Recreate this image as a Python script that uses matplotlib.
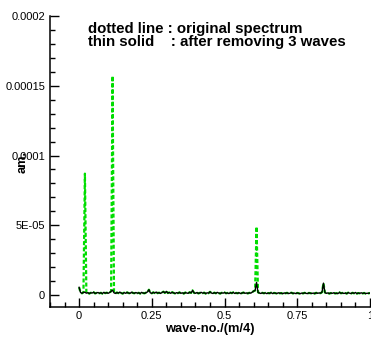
import numpy as np
import matplotlib
matplotlib.use("Agg")
import matplotlib.pyplot as plt
from matplotlib.ticker import MultipleLocator, FixedLocator, FixedFormatter

plt.rcParams['font.family'] = ['Liberation Sans', 'DejaVu Sans']

# wave number grid (step 0.005) and amplitude after removing 3 waves (units of 1e-6)
wave_no = np.linspace(0, 1, 201)
after_removing = [
    5.5, 1.8, 1.2, 1.9, 2.0, 1.3, 1.7, 1.0, 1.6, 1.4,
    2.0, 1.1, 1.5, 1.8, 1.2, 1.6, 1.0, 1.9, 1.3, 1.7,
    1.2, 1.8, 2.6, 3.5, 1.6, 1.1, 1.8, 1.3, 2.1, 1.4,
    1.0, 1.7, 1.2, 1.9, 1.4, 1.1, 2.0, 1.5, 1.2, 1.8,
    1.3, 1.6, 1.0, 1.9, 1.4, 1.2, 1.7, 2.2, 3.8, 1.5,
    1.2, 1.9, 1.4, 2.1, 1.3, 1.7, 1.1, 1.8, 2.4, 1.5,
    2.6, 1.4, 1.8, 1.2, 2.0, 1.5, 1.1, 1.7, 1.3, 1.9,
    1.2, 1.6, 1.0, 1.8, 1.4, 1.2, 2.0, 1.5, 3.3, 1.6,
    1.2, 1.8, 1.1, 1.5, 1.9, 1.3, 1.7, 1.0, 1.6, 1.3,
    2.3, 1.4, 1.1, 1.7, 1.2, 1.9, 1.4, 1.0, 1.6, 1.3,
    1.8, 1.2, 1.5, 1.0, 1.7, 1.3, 1.9, 1.1, 1.5, 1.2,
    1.7, 1.0, 1.4, 1.8, 1.2, 1.5, 1.1, 1.6, 1.3, 2.0,
    2.8, 3.2, 9.0, 1.9, 1.4, 1.1, 1.6, 1.2, 1.5, 1.0,
    1.4, 1.2, 1.7, 1.0, 1.5, 1.3, 1.1, 1.6, 1.2, 1.4,
    0.9, 1.5, 1.2, 1.6, 1.0, 1.3, 1.7, 1.1, 1.4, 1.0,
    1.5, 1.2, 0.9, 1.4, 1.1, 1.6, 1.2, 1.0, 1.5, 1.3,
    1.1, 1.4, 1.0, 1.6, 1.2, 1.5, 1.3, 2.0, 8.5, 1.8,
    1.2, 1.5, 1.0, 1.4, 1.2, 1.6, 1.1, 1.3, 1.0, 1.9,
    1.2, 1.5, 1.1, 1.4, 1.0, 1.7, 1.3, 1.1, 1.6, 1.2,
    1.8, 1.0, 1.4, 1.2, 1.6, 1.1, 1.5, 1.0, 1.3, 1.2,
    1.4,
]
# the 3 waves present in the original spectrum (index on the grid, amplitude 1e-6)
wave_index = [4, 23, 122]
wave_amp = [87.0, 157.0, 49.0]

original = list(after_removing)
for i, a in zip(wave_index, wave_amp):
    original[i] = a

original = np.array(original) * 1e-6
after = np.array(after_removing) * 1e-6

fig = plt.figure(figsize=(3.71, 3.38), dpi=100)
ax = fig.add_axes([50 / 371, 31 / 338, 320 / 371, 291 / 338])

ax.plot(wave_no, original, color='#00dd00', lw=1.6, linestyle=(0, (1.8, 1.0)))
ax.plot(wave_no, after, color='black', lw=1.0)

ax.set_xlim(-0.1, 1.0)
ax.set_ylim(-8.6e-6, 2e-4)

ax.xaxis.set_major_locator(FixedLocator([0, 0.25, 0.5, 0.75, 1]))
ax.xaxis.set_major_formatter(FixedFormatter(['0', '0.25', '0.5', '0.75', '1']))
ax.xaxis.set_minor_locator(MultipleLocator(0.05))
ax.yaxis.set_major_locator(FixedLocator([0, 5e-5, 1e-4, 1.5e-4, 2e-4]))
ax.yaxis.set_major_formatter(FixedFormatter(['0', '5E-05', '0.0001', '0.00015', '0.0002']))
ax.yaxis.set_minor_locator(MultipleLocator(1e-5))

ax.tick_params(which='both', direction='in', width=1.0, labelsize=8)
ax.tick_params(which='major', length=6.5)
ax.tick_params(which='minor', length=3.5)
ax.tick_params(axis='y', pad=3.5)
ax.tick_params(axis='x', pad=3)

for s in ['top', 'right']:
    ax.spines[s].set_visible(False)
for s in ['left', 'bottom']:
    ax.spines[s].set_linewidth(1.1)

ax.set_xlabel('wave-no./(m/4)', fontsize=9.3, fontweight='bold', labelpad=1)
ax.set_ylabel('am.', fontsize=9.3, fontweight='bold', va='center')
ax.yaxis.set_label_coords(-27 / 320, 0.5)

fig.text(88 / 371, 1 - 33 / 338, 'dotted line : original spectrum',
         fontsize=10.8, fontweight='bold', va='baseline')
fig.text(88 / 371, 1 - 46 / 338, 'thin solid    : after removing 3 waves',
         fontsize=10.8, fontweight='bold', va='baseline')

fig.savefig('out.png', dpi=100)
